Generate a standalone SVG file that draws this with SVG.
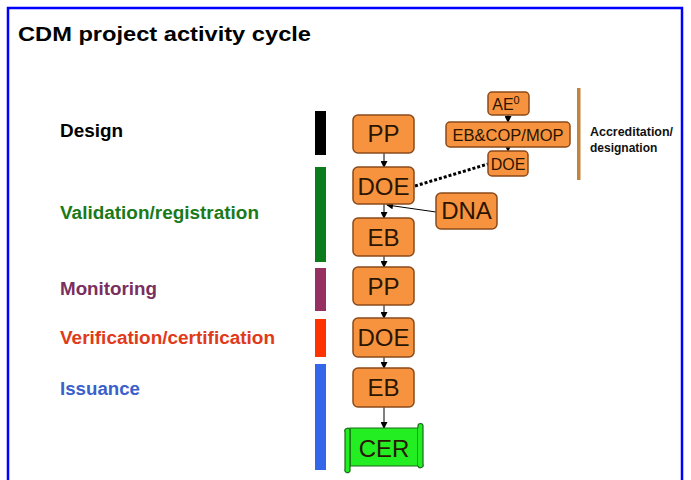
<svg xmlns="http://www.w3.org/2000/svg" width="691" height="480" viewBox="0 0 691 480">
<defs>
<style>
.frame{fill:#fff;stroke:#0000ff;stroke-width:2.5}
.lbl{font-family:"Liberation Sans",Arial,sans-serif;font-weight:bold;font-size:18px}
.box{fill:#f7933e;stroke:#8a4a1a;stroke-width:1.5}
.bt{font-family:"Liberation Sans",Arial,sans-serif;font-size:24px;fill:#2a1500;text-anchor:middle}
.st{font-family:"Liberation Sans",Arial,sans-serif;font-size:16px;fill:#2a1500;text-anchor:middle}
.acc{font-family:"Liberation Sans",Arial,sans-serif;font-weight:bold;font-size:12px;fill:#111}
.con{stroke:#000;stroke-width:1;fill:none;marker-end:url(#ah)}
</style>
<marker id="ah" markerWidth="7" markerHeight="7" refX="6" refY="3.5" orient="auto" markerUnits="userSpaceOnUse">
<path d="M0,0 L7,3.5 L0,7 z" fill="#000"/>
</marker>
</defs>
<rect class="frame" x="8" y="8" width="674" height="490"/>
<text x="18" y="41" textLength="293" lengthAdjust="spacingAndGlyphs" style="font-family:'Liberation Sans',Arial,sans-serif;font-weight:bold;font-size:21px" fill="#000">CDM project activity cycle</text>

<g id="phase-labels">
<text class="lbl" x="60" y="137" textLength="63" lengthAdjust="spacingAndGlyphs" fill="#000">Design</text>
<text class="lbl" x="60" y="219" textLength="199" lengthAdjust="spacingAndGlyphs" fill="#1a7a1a">Validation/registration</text>
<text class="lbl" x="60" y="295" textLength="97" lengthAdjust="spacingAndGlyphs" fill="#7a2f5f">Monitoring</text>
<text class="lbl" x="60" y="344" textLength="215" lengthAdjust="spacingAndGlyphs" fill="#e03a1a">Verification/certification</text>
<text class="lbl" x="60" y="395" textLength="80" lengthAdjust="spacingAndGlyphs" fill="#3a60cc">Issuance</text>
</g>

<g id="phase-bars">
<rect x="315" y="111" width="11" height="44" fill="#000"/>
<rect x="315" y="167" width="11" height="95" fill="#0b7b1b"/>
<rect x="315" y="268" width="11" height="43" fill="#963060"/>
<rect x="315" y="319" width="11" height="38" fill="#ff3300"/>
<rect x="315" y="364" width="11" height="106" fill="#3366e8"/>
<rect x="577" y="88" width="3.5" height="92" fill="#c0843a"/>
</g>

<g id="connectors">
<line class="con" x1="384" y1="153" x2="384" y2="167"/>
<line class="con" x1="384" y1="204" x2="384" y2="218"/>
<line class="con" x1="384" y1="256" x2="384" y2="267"/>
<line class="con" x1="384" y1="305" x2="384" y2="318"/>
<line class="con" x1="384" y1="357" x2="384" y2="368"/>
<line class="con" x1="384" y1="407" x2="384" y2="428"/>
<line class="con" x1="436" y1="212" x2="387" y2="205"/>
<line class="con" x1="508" y1="115" x2="508" y2="122"/>
<line class="con" x1="508" y1="147" x2="508" y2="151"/>
<line x1="415" y1="186" x2="488" y2="164" stroke="#000" stroke-width="3" stroke-dasharray="3,2"/>
</g>

<g id="pp1"><rect class="box" x="353" y="115" width="61" height="38" rx="5"/><text class="bt" x="383.5" y="142">PP</text></g>
<g id="doe1"><rect class="box" x="353" y="167" width="61" height="37" rx="5"/><text class="bt" x="383.5" y="195">DOE</text></g>
<g id="eb1"><rect class="box" x="353" y="218" width="61" height="38" rx="5"/><text class="bt" x="383.5" y="246">EB</text></g>
<g id="dna"><rect class="box" x="436" y="193" width="61" height="36" rx="5"/><text class="bt" x="466.5" y="219">DNA</text></g>
<g id="pp2"><rect class="box" x="353" y="267" width="61" height="38" rx="5"/><text class="bt" x="383.5" y="295">PP</text></g>
<g id="doe2"><rect class="box" x="353" y="318" width="61" height="39" rx="5"/><text class="bt" x="383.5" y="346">DOE</text></g>
<g id="eb2"><rect class="box" x="353" y="368" width="61" height="39" rx="5"/><text class="bt" x="383.5" y="396">EB</text></g>
<g id="ae0"><rect class="box" x="488" y="92" width="41" height="23" rx="4"/><text class="st" x="506" y="110">AE<tspan dy="-6" font-size="11">0</tspan></text></g>
<g id="ebcop"><rect class="box" x="446" y="122" width="124" height="25" rx="4"/><text class="st" x="508" y="141" textLength="111" lengthAdjust="spacingAndGlyphs">EB&amp;COP/MOP</text></g>
<g id="doe-small"><rect class="box" x="488" y="151" width="40" height="25" rx="4"/><text class="st" x="508" y="170">DOE</text></g>
<g id="acc-label">
<text class="acc" x="590" y="136" textLength="83" lengthAdjust="spacingAndGlyphs">Accreditation/</text>
<text class="acc" x="590" y="152">designation</text>
</g>
<g id="cer">
<path d="M350,428 L418,428 L418,466 L350,466 Z" fill="#22ee22" stroke="#1a6a1a" stroke-width="1.2"/>
<path d="M418,428 L418,426 A2.5,2.5 0 0 1 423,426 L423,464 A2.5,2.5 0 0 1 418,466" fill="#22ee22" stroke="#1a6a1a" stroke-width="1.2"/>
<path d="M345,432 A2.5,2.5 0 0 1 350,430 L350,471 A2.5,2.5 0 0 1 345,469 Z" fill="#22ee22" stroke="#1a6a1a" stroke-width="1.2"/>
<text class="bt" x="384" y="457" fill="#0a3a0a">CER</text>
</g>
</svg>
